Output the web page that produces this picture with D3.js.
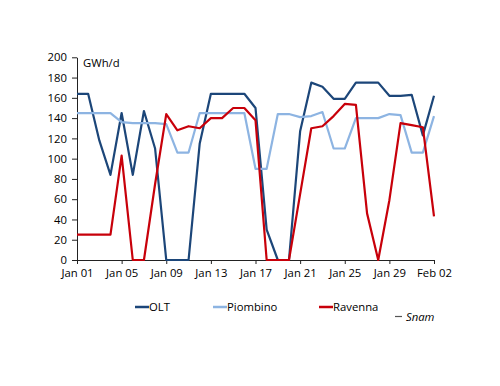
<!DOCTYPE html>
<html lang="en">
<head>
<meta charset="UTF-8" />
<title>LNG send-out</title>
<script src="https://cdn.jsdelivr.net/npm/d3@7/dist/d3.min.js"></script>
<style>
  body { margin: 0; background: #fff; }
  svg text { font-family: "Open Sans", sans-serif; font-size: 11.3px; fill: #000; }
</style>
</head>
<body>
<svg id="chart" width="500" height="386"></svg>
<script>
// days from Jan 01 to Feb 02
const startDay = '2023-01-01';
const dayCount = 33;
const yTicks = [0, 20, 40, 60, 80, 100, 120, 140, 160, 180, 200];

const olt = [164, 164, 118, 84, 145, 84, 147, 110, 0, 0, 0, 115, 164, 164, 164, 164,
  150, 30, 0, 0, 127, 175, 171, 159, 159, 175, 175, 175, 162, 162, 163, 123, 162];
const piombino = [145, 145, 145, 145, 136, 135, 135, 135, 134, 106, 106, 145, 145, 145, 145, 145,
  90, 90, 144, 144, 141, 142, 146, 110, 110, 140, 140, 140, 144, 143, 106, 106, 142];
const ravenna = [25, 25, 25, 25, 103, 0, 0, 75, 144, 128, 132, 130, 140, 140, 150, 150,
  138, 0, 0, 0, 65, 130, 132, 142, 154, 153, 46, 0, 59, 135, 133, 131, 43];

const seriesNames = ['OLT', 'Piombino', 'Ravenna'];
const seriesColors = ['#1c4679', '#8db4e2', '#c8000a'];

const svg = d3.select('#chart');
const m = { left: 77, right: 434, top: 57.3, bottom: 260 };

const start = d3.utcParse('%Y-%m-%d')(startDay);
const days = d3.range(dayCount).map(i => d3.utcDay.offset(start, i));

const x = d3.scaleUtc().domain([days[0], days[dayCount - 1]]).range([m.left, m.right]);
const y = d3.scaleLinear().domain([0, 200]).range([m.bottom, m.top]);

const xAxis = d3.axisBottom(x)
  .tickValues(d3.range(0, dayCount, 4).map(i => days[i]))
  .tickFormat(d3.utcFormat('%b %d'))
  .tickSize(4).tickSizeOuter(0).tickPadding(5);
const yAxis = d3.axisLeft(y).tickValues(yTicks).tickSize(5).tickSizeOuter(0).tickPadding(5);

const gx = svg.append('g').attr('transform', `translate(0,${m.bottom})`).call(xAxis);
const gy = svg.append('g').attr('transform', `translate(${m.left},0)`).call(yAxis);
[gx, gy].forEach(g => {
  g.selectAll('path, line').attr('stroke', '#222');
  g.select('.domain').attr('stroke-width', 1);
  g.selectAll('text').attr('font-family', null).attr('font-size', null);
});

svg.append('text').attr('x', 83).attr('y', 67).attr('font-size', '12px').text('GWh/d');

const line = d3.line().x((d, i) => x(days[i])).y(d => y(d));
[olt, piombino, ravenna].forEach((vals, k) => {
  svg.append('path')
    .datum(vals)
    .attr('d', line)
    .attr('fill', 'none')
    .attr('stroke', seriesColors[k])
    .attr('stroke-width', 2.2)
    .attr('stroke-linejoin', 'round');
});

// legend
const legendX = [135, 213, 319];
seriesNames.forEach((name, k) => {
  const g = svg.append('g').attr('transform', `translate(${legendX[k]},307)`);
  g.append('line').attr('x1', 0).attr('x2', 14).attr('stroke', seriesColors[k]).attr('stroke-width', 2.5);
  g.append('text').attr('x', 14).attr('dy', '0.35em').text(name);
});

svg.append('line').attr('x1', 395).attr('x2', 402).attr('y1', 316.5).attr('y2', 316.5)
  .attr('stroke', '#555').attr('stroke-width', 1.2);
svg.append('text').attr('x', 406).attr('y', 321).attr('font-style', 'italic').text('Snam');
</script>
</body>
</html>
